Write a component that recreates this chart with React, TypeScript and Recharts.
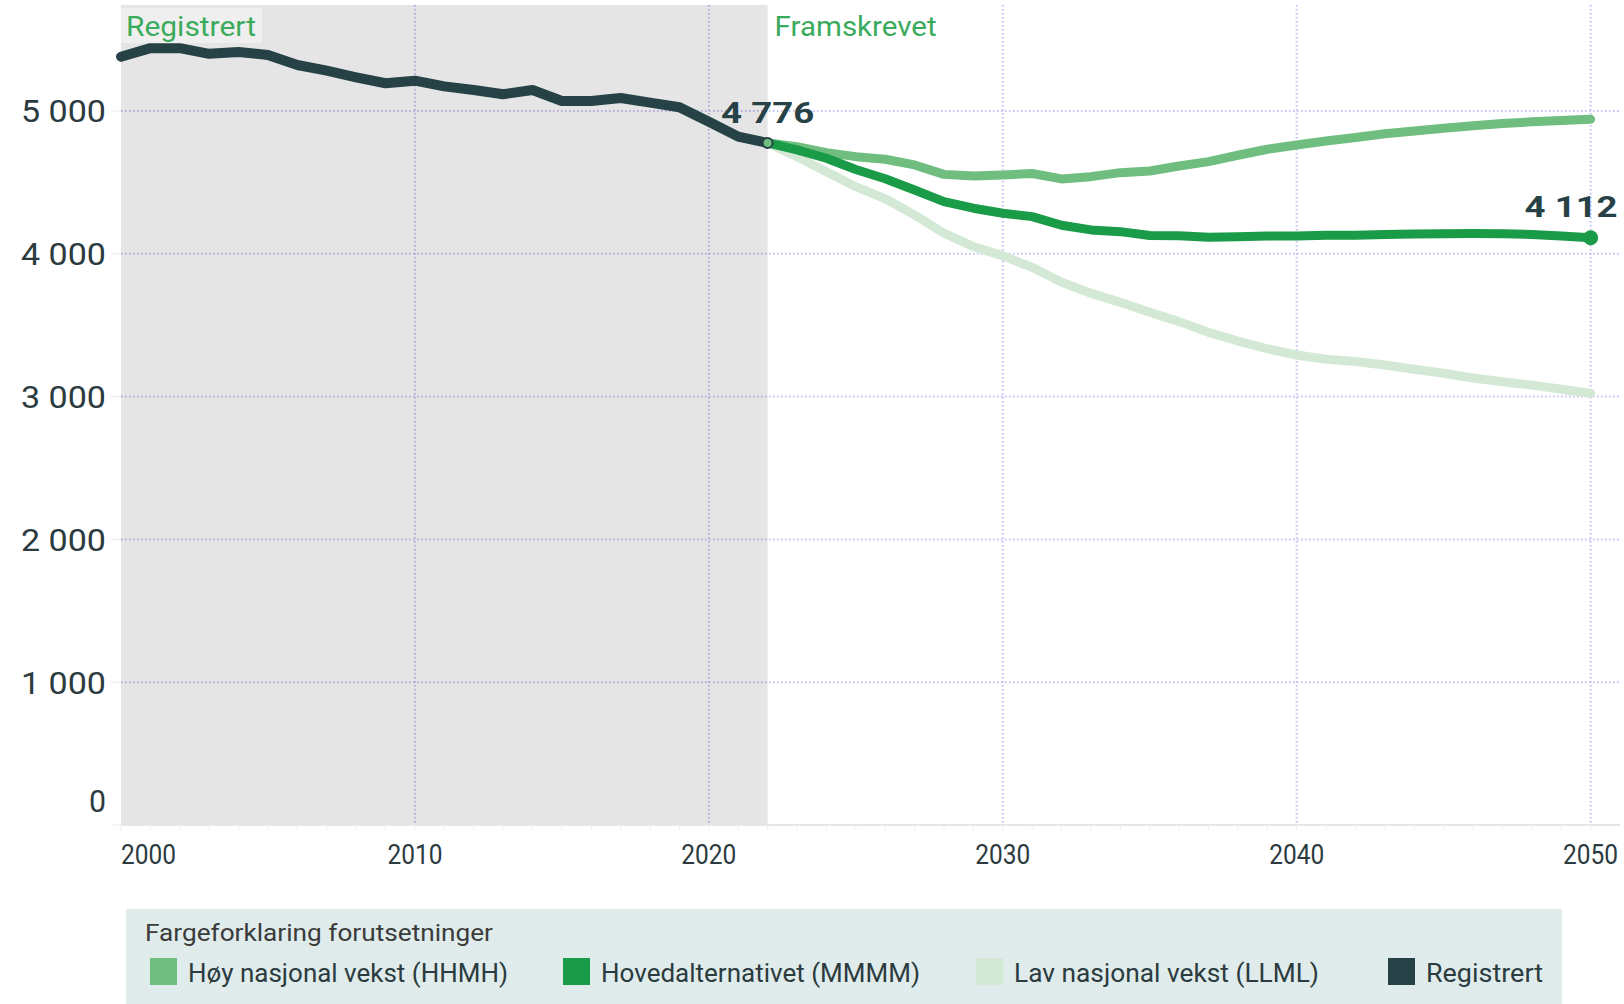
import { LineChart, Line, XAxis, YAxis, CartesianGrid, ReferenceArea } from 'recharts';

// registrert (historikk)
const registeredYears = [
    2000, 2001, 2002, 2003, 2004, 2005, 2006, 2007, 2008, 2009, 2010, 2011,
    2012, 2013, 2014, 2015, 2016, 2017, 2018, 2019, 2020, 2021, 2022,
];
const registeredValues = [
    5380, 5440, 5440, 5400, 5413, 5392, 5322, 5282, 5236, 5194, 5212, 5172,
    5147, 5117, 5147, 5070, 5070, 5091, 5058, 5026, 4925, 4820, 4776,
];

// framskrivinger
const projectionYears = [
    2022, 2023, 2024, 2025, 2026, 2027, 2028, 2029, 2030, 2031, 2032, 2033, 2034, 2035, 2036,
    2037, 2038, 2039, 2040, 2041, 2042, 2043, 2044, 2045, 2046, 2047, 2048, 2049, 2050,
];
const highValues = [
    4776, 4750, 4708, 4680, 4662, 4622, 4556, 4545, 4552, 4562, 4524, 4540, 4568, 4580, 4615,
    4645, 4690, 4732, 4762, 4790, 4814, 4840, 4860, 4879, 4896, 4912, 4924, 4933, 4942,
];
const mainValues = [
    4776, 4727, 4669, 4590, 4525, 4447, 4365, 4319, 4284, 4260, 4200, 4167, 4155, 4128, 4126,
    4116, 4120, 4125, 4125, 4130, 4130, 4135, 4138, 4140, 4142, 4140, 4135, 4125, 4112,
];
const lowValues = [
    4776, 4680, 4575, 4470, 4385, 4272, 4144, 4050, 3985, 3905, 3800, 3723, 3660, 3590, 3525,
    3450, 3389, 3335, 3291, 3261, 3245, 3221, 3191, 3163, 3130, 3104, 3080, 3051, 3023,
];

const xTicks = [2000, 2010, 2020, 2030, 2040, 2050];
const yTicks = [0, 1000, 2000, 3000, 4000, 5000];

const legendTitle = 'Fargeforklaring forutsetninger';
const legendLabels = ['Høy nasjonal vekst (HHMH)', 'Hovedalternativet (MMMM)', 'Lav nasjonal vekst (LLML)', 'Registrert'];

const C = {
    reg: '#274247',
    high: '#6fbe7f',
    main: '#1a9b48',
    low: '#d3e9d6',
    label: '#3aab5c',
    text: '#2b3b40',
    grid: '#c4bcf8',
};
const legendColors = [C.high, C.main, C.low, C.reg];
// legend layout (x of swatch, width of text)
const legendX = [24, 437, 850, 1262];
const legendTextW = [320, 319, 305, 117];

const FONT = 'Roboto, "Open Sans", sans-serif';

type Row = { year: number; registrert?: number; hoy?: number; hoved?: number; lav?: number };

const rowMap = new Map<number, Row>();
const row = (y: number) => {
    if (!rowMap.has(y)) rowMap.set(y, { year: y });
    return rowMap.get(y)!;
};
registeredYears.forEach((y, i) => { row(y).registrert = registeredValues[i]; });
projectionYears.forEach((y, i) => {
    row(y).hoy = highValues[i];
    row(y).hoved = mainValues[i];
    row(y).lav = lowValues[i];
});
const data = [...rowMap.values()].sort((a, b) => a.year - b.year);
const allYears = data.map(d => d.year);

const fmt = (v: number) => String(v).replace(/\B(?=(\d{3})+(?!\d))/g, '\u00a0');

function YTick({ x, y, payload }: any) {
    const v = payload.value;
    const s = fmt(v);
    return (
        <text x={x} y={y} dy={v === 0 ? -13 : 11.5} textAnchor="end" fontSize={32} fill={C.text} fontFamily={FONT}
            textLength={s.length > 1 ? 85 : 17} lengthAdjust="spacingAndGlyphs">
            {s}
        </text>
    );
}

function XTick({ x, y, payload }: any) {
    const v = payload.value;
    if (!xTicks.includes(v)) return <g />;
    const first = v === xTicks[0];
    return (
        <text x={x} y={y} dy={31} textAnchor={first ? 'start' : 'middle'} fontSize={27} fill={C.text}
            fontFamily={FONT} textLength={55} lengthAdjust="spacingAndGlyphs">
            {v}
        </text>
    );
}

const regDot = (p: any) => {
    const { cx, cy, payload, index } = p;
    if (payload.year !== registeredYears[registeredYears.length - 1] || cx == null) return <g key={`r${index}`} />;
    return (
        <g key={`r${index}`}>
            <circle cx={cx} cy={cy} r={5} fill={C.high} stroke={C.reg} strokeWidth={2} />
            <text x={cx} y={cy - 20} textAnchor="middle" fontSize={30} fontWeight="bold" fill={C.reg}
                fontFamily={FONT} textLength={93} lengthAdjust="spacingAndGlyphs">
                {fmt(payload.registrert)}
            </text>
        </g>
    );
};

const mainDot = (p: any) => {
    const { cx, cy, payload, index } = p;
    if (payload.year !== projectionYears[projectionYears.length - 1] || cx == null) return <g key={`m${index}`} />;
    return (
        <g key={`m${index}`}>
            <circle cx={cx} cy={cy} r={7.5} fill={C.main} />
            <text x={cx + 27} y={cy - 21} textAnchor="end" fontSize={30} fontWeight="bold" fill={C.reg}
                fontFamily={FONT} textLength={93} lengthAdjust="spacingAndGlyphs">
                {fmt(payload.hoved)}
            </text>
        </g>
    );
};

const periodLabel = (text: string, boxed: boolean, width: number) => (props: any) => {
    const { x, y } = props.viewBox;
    return (
        <g>
            {boxed && <rect x={x} y={y + 3} width={141} height={35} fill="#efefef" />}
            <text x={x + (boxed ? 5 : 7)} y={y + 31} fontSize={27} fill={C.label} fontFamily={FONT}
                textLength={width} lengthAdjust="spacingAndGlyphs">
                {text}
            </text>
        </g>
    );
};

function Legend() {
    return (
        <div style={{ position: 'absolute', left: 126, top: 909, width: 1436, height: 95, background: '#dfeceb' }}>
            <svg width={1436} height={95} style={{ display: 'block' }}>
                <text x={19} y={31.5} fontSize={23} fill="#3b3b3b" fontFamily={FONT}
                    textLength={348} lengthAdjust="spacingAndGlyphs">
                    {legendTitle}
                </text>
                {legendLabels.map((l, i) => (
                    <g key={l}>
                        <rect x={legendX[i]} y={49} width={27} height={27} fill={legendColors[i]} />
                        <text x={legendX[i] + 38} y={72.5} fontSize={25} fill={C.text} fontFamily={FONT}
                            textLength={legendTextW[i]} lengthAdjust="spacingAndGlyphs">
                            {l}
                        </text>
                    </g>
                ))}
            </svg>
        </div>
    );
}

export default function App() {
    return (
        <div style={{ position: 'absolute', left: 0, top: 0, width: 1624, height: 1004, background: '#fff' }}>
            <LineChart width={1624} height={880} data={data} margin={{ top: 5, right: 4, bottom: 0, left: 0 }}>
                <ReferenceArea x1={2000} x2={2022} fill="#000" fillOpacity={0.1} stroke="none"
                    label={periodLabel('Registrert', true, 130)} />
                <ReferenceArea x1={2022} x2={2051} fill="#fff" fillOpacity={0} stroke="none"
                    label={periodLabel('Framskrevet', false, 162)} />
                <CartesianGrid stroke={C.grid} strokeDasharray="1.5 2.5" strokeWidth={2}
                    horizontalValues={[1000, 2000, 3000, 4000, 5000]} verticalValues={[2010, 2020, 2030, 2040, 2050]} />
                <XAxis dataKey="year" type="number" domain={[2000, 2051]} ticks={allYears} interval={0}
                    height={55} tick={<XTick />} tickSize={6} tickMargin={2}
                    axisLine={{ stroke: '#e6e6e6', strokeWidth: 2 }} tickLine={{ stroke: '#efefef' }} />
                <YAxis type="number" domain={[0, 5742]} ticks={yTicks} width={121} tick={<YTick />}
                    tickSize={10} tickMargin={5} axisLine={false} tickLine={{ stroke: '#ececec' }} />
                <Line dataKey="lav" stroke={C.low} strokeWidth={9} dot={false} strokeLinecap="round"
                    strokeLinejoin="round" isAnimationActive={false} />
                <Line dataKey="hoy" stroke={C.high} strokeWidth={9} dot={false} strokeLinecap="round"
                    strokeLinejoin="round" isAnimationActive={false} />
                <Line dataKey="hoved" stroke={C.main} strokeWidth={9} dot={mainDot} strokeLinecap="round"
                    strokeLinejoin="round" isAnimationActive={false} />
                <Line dataKey="registrert" stroke={C.reg} strokeWidth={10} dot={regDot} strokeLinecap="round"
                    strokeLinejoin="round" isAnimationActive={false} />
            </LineChart>
            <Legend />
        </div>
    );
}
